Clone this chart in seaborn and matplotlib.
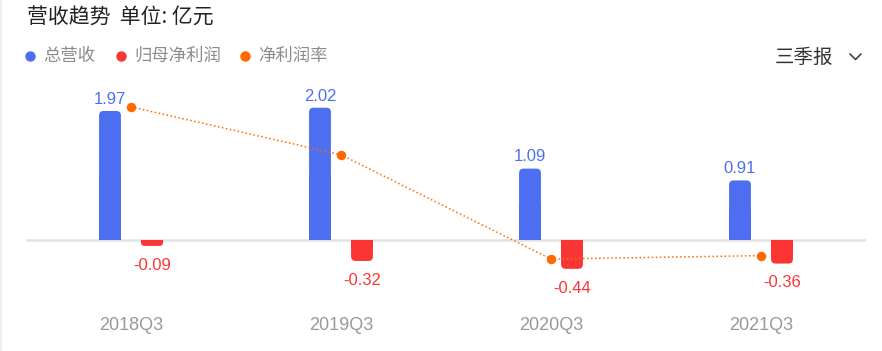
import pandas as pd
import seaborn as sns
import numpy as np
import matplotlib.pyplot as plt
from matplotlib.patches import FancyBboxPatch, Rectangle

quarters = ["2018Q3", "2019Q3", "2020Q3", "2021Q3"]
revenue = [1.97, 2.02, 1.09, 0.91]
profit = [-0.09, -0.32, -0.44, -0.36]
margin = [-4.57, -15.84, -40.37, -39.56]   # 净利润率 %

series_names = ["总营收", "归母净利润", "净利润率"]
blue = "#4e6ef2"
red = "#fa3534"
orange = "#ff6a00"

sns.set_theme(style="white")
plt.rcParams['font.family'] = ['Liberation Sans', 'Noto Sans CJK SC', 'DejaVu Sans']
cjk = ['Noto Sans CJK SC', 'DejaVu Sans']

df = pd.DataFrame({
    "季度": quarters * 2,
    "项目": [series_names[0]] * 4 + [series_names[1]] * 4,
    "值": revenue + profit,
})
df_rate = pd.DataFrame({"季度": quarters, "净利润率": margin})

W, H = 882, 351
fig = plt.figure(figsize=(W / 100, H / 100), dpi=100)

# overlay in pixel coords for header / legend
ov = fig.add_axes([0, 0, 1, 1])
ov.set_xlim(0, W)
ov.set_ylim(H, 0)
ov.axis("off")
ov.add_patch(Rectangle((0, 0), 2, H, color="#efefef", lw=0))

# main axes: left 26px, right 866px, top 80px, bottom 300px
ax = fig.add_axes([26 / W, (H - 300) / H, 840 / W, 220 / H])
sns.barplot(data=df, x="季度", y="值", hue="项目", palette=[blue, red],
            width=0.4, gap=0.48, ax=ax, legend=False, saturation=1,
            linewidth=0, edgecolor="none")
ax.set_xlim(-0.5, 3.5)
ax.set_ylim(-0.916, 2.443)
ax.axhline(0, color="#e3e3e3", lw=1.8, zorder=0)

cont_b, cont_r = ax.containers[0], ax.containers[1]
ax.bar_label(cont_b, fmt="%.2f", padding=3, color=blue, fontsize=12)
ax.bar_label(cont_r, fmt="%.2f", padding=8.5, color=red, fontsize=12)

# rounded ends on bars
px_x = 210.0   # pixels per x unit
px_y = 220 / (2.443 + 0.916)
for cont in ax.containers:
    for rect in cont:
        x, w, h = rect.get_x(), rect.get_width(), rect.get_height()
        fc = rect.get_facecolor()
        r_px = min(4.5, abs(h) * px_y / 2)
        y0 = 0 if h > 0 else h
        fb = FancyBboxPatch((x, y0), w, abs(h),
                            boxstyle=f"round,pad=0,rounding_size={r_px / px_x}",
                            mutation_aspect=px_x / px_y, fc=fc, ec="none", lw=0)
        ax.add_patch(fb)
        rect.set_height(h / 2)

for s in ax.spines.values():
    s.set_visible(False)
ax.set_yticks([])
ax.set_xlabel("")
ax.set_ylabel("")
ax.tick_params(axis="x", length=0, pad=12, labelsize=13, labelcolor="#999999")

ax2 = ax.twinx()
sns.pointplot(data=df_rate, x="季度", y="净利润率", ax=ax2, color=orange,
              errorbar=None, linestyle=":", marker="o", markersize=6,
              linewidth=1.1)
ax2.set_xlim(-0.5, 3.5)
ax2.set_ylim(-50.0, 1.75)
for s in ax2.spines.values():
    s.set_visible(False)
ax2.set_yticks([])
ax2.set_ylabel("")
ax2.set_xlabel("")

# header
ov.text(27, 18, "营收趋势  单位: 亿元", fontsize=15, color="#222222",
        va="center", ha="left", family=cjk)
leg_x = [30, 121, 245]
for lx, name, c in zip(leg_x, series_names, [blue, red, orange]):
    ov.plot(lx, 56, "o", color=c, markersize=6.5)
    ov.text(lx + 13, 56, name, fontsize=12.5, color="#8c8c8c",
            va="center", ha="left", family=cjk)
ov.text(775, 57, "三季报", fontsize=14, color="#333333", va="center",
        ha="left", family=cjk)
ov.plot([850, 855.5, 861], [54, 59.5, 54], color="#444444", lw=1.2)

fig.savefig("out.png", dpi=100, facecolor="white")
